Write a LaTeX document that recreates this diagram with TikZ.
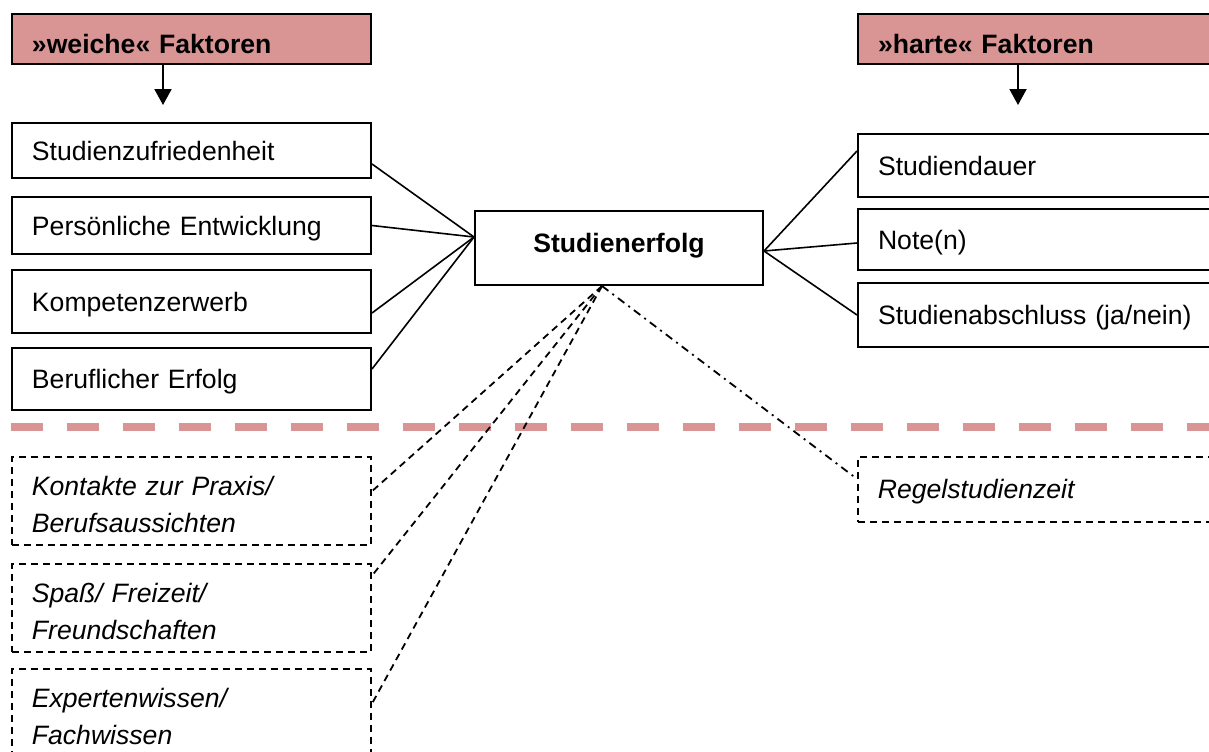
\documentclass[tikz,border=0pt]{standalone}
\usepackage{fontspec}
\setmainfont{Liberation Sans}
\usetikzlibrary{arrows.meta}
\definecolor{rosa}{HTML}{D99594}

\begin{document}
\begin{tikzpicture}[x=0.5pt,y=-0.5pt,
		every node/.style={font=\fontsize{13.3pt}{18.5pt}\selectfont, inner ysep=0pt, inner xsep=10pt, align=left, anchor=north west},
		faktor/.style={draw, line width=1pt, minimum width=179.5pt, text width=159.5pt, text height=9.5pt, text depth=0pt},
		rechts/.style={minimum width=190pt, text width=170pt},
		kopf/.style={faktor, fill=rosa, font=\fontsize{13.3pt}{18.5pt}\selectfont\bfseries, minimum height=25pt, text height=14pt},
		weich/.style={faktor, line width=0.9pt, dash pattern=on 3.5pt off 2.5pt, font=\fontsize{13.3pt}{18.5pt}\selectfont\itshape, text height=19.5pt, text depth=24.5pt},
		verb/.style={line width=0.8pt},
		gestr/.style={line width=0.9pt, dash pattern=on 3.5pt off 2.5pt},
		strichpunkt/.style={line width=0.9pt, dash pattern=on 4pt off 2.5pt on 1pt off 2.5pt},
		pfeil/.style={line width=1pt, -{Triangle[width=8.5pt,length=8pt]}},
		trenner/.style={line width=4pt, rosa, dash pattern=on 16pt off 12pt}]
		\useasboundingbox (0,0) rectangle (1209,751);
		\node[kopf] (weich) at (11,13) {»weiche« Faktoren};
		\node[kopf, rechts] (hart) at (857,13) {»harte« Faktoren};
		\node[faktor, minimum height=27.5pt] (zuf) at (11,122) {Studienzufriedenheit};
		\node[faktor, minimum height=28.5pt] (pers) at (11,196) {Persönliche Entwicklung};
		\node[faktor, minimum height=31.5pt] (komp) at (11,269) {Kompetenzerwerb};
		\node[faktor, minimum height=31pt] (beruf) at (11,347) {Beruflicher Erfolg};
		\node[faktor, rechts, minimum height=31.5pt] (dauer) at (857,133) {Studiendauer};
		\node[faktor, rechts, minimum height=30.5pt] (note) at (857,208) {Note(n)};
		\node[faktor, rechts, minimum height=32pt] (abschluss) at (857,282) {Studienabschluss (ja/nein)};
		\node[draw, line width=1pt, anchor=center, align=center, inner xsep=0pt, minimum width=144pt, minimum height=37pt, font=\fontsize{13.3pt}{18.5pt}\selectfont\bfseries, text height=9.5pt, text depth=5.5pt] (erfolg) at (619,248) {Studienerfolg};
		\node[weich] (praxis) at (11,456) {Kontakte zur Praxis/\\Berufsaussichten};
		\node[weich] (freizeit) at (11,563) {Spaß/ Freizeit/\\Freundschaften};
		\node[weich] (wissen) at (11,668) {Expertenwissen/\\Fachwissen};
		\node[weich, rechts, text height=9.5pt, text depth=0pt, minimum height=32.5pt] (regel) at (857,456) {Regelstudienzeit};

		\coordinate (wpfeil) at ([xshift=76pt, yshift=-20pt]weich.south west);
		\coordinate (hpfeil) at ([xshift=80.5pt, yshift=-20pt]hart.south west);
		\draw[pfeil] (wpfeil |- weich.south) -- (wpfeil);
		\draw[pfeil] (hpfeil |- hart.south) -- (hpfeil);

		\coordinate (links) at ([yshift=5.5pt]erfolg.west);
		\coordinate (rechtsp) at ([yshift=-1.5pt]erfolg.east);
		\coordinate (fan) at ([xshift=-8.5pt]erfolg.south);
		\draw[verb] ([yshift=-6.75pt]zuf.east) -- (links);
		\draw[verb] (pers.east) -- (links);
		\draw[verb] ([yshift=-5.75pt]komp.east) -- (links);
		\draw[verb] ([yshift=5pt]beruf.east) -- (links);
		\draw[verb] ([yshift=7.25pt]dauer.west) -- (rechtsp);
		\draw[verb] ([yshift=-1.75pt]note.west) -- (rechtsp);
		\draw[verb] (abschluss.west) -- (rechtsp);

		\draw[trenner] (11,427) -- (1215,427);

		\draw[gestr] (fan) -- ([yshift=4.75pt]praxis.east);
		\draw[gestr] (fan) -- ([yshift=16pt]freizeit.east);
		\draw[gestr] (fan) -- ([yshift=4.5pt]wissen.east);
		\draw[strichpunkt] (fan) -- ([yshift=5.25pt]regel.west);
\end{tikzpicture}
\end{document}
